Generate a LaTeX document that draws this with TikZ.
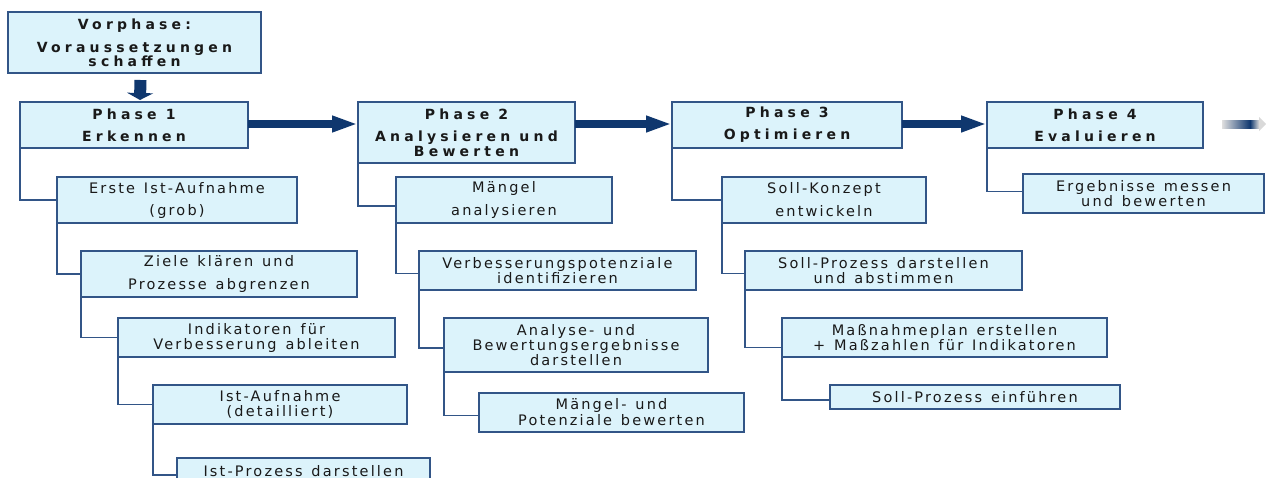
\documentclass[tikz,border=0pt]{standalone}
\usepackage{fontspec}
\usetikzlibrary{arrows.meta}
\newfontfamily\txfont[LetterSpace=15,WordSpace=1.3]{DejaVu Sans}
\newfontfamily\phfont[LetterSpace=30]{DejaVu Sans Bold}
\definecolor{boxc}{RGB}{220,243,251}
\definecolor{bordc}{RGB}{50,85,135}
\definecolor{arrc}{RGB}{15,55,110}
\definecolor{txtc}{RGB}{25,25,25}
\tikzset{
  box/.style={draw=bordc, fill=boxc, line width=1.4pt, inner sep=0pt, outer sep=0pt, align=center, text=txtc},
  sub/.style={box, font=\txfont\fontsize{14.5}{15}\selectfont},
  ph/.style={box, font=\phfont\fontsize{14}{15}\selectfont},
  conn/.style={draw=bordc, line width=1.4pt},
  bigarrow/.style={draw=arrc, line width=8pt, -{Triangle[length=26pt,width=15pt]}},
  downarrow/.style={draw=arrc, line width=12pt, -{Triangle[length=7pt,width=26pt]}}
}
\begin{document}
\begin{tikzpicture}[x=1pt,y=-1pt]
\useasboundingbox (0,0) rectangle (1266,477);
% phases
\node[ph, minimum width=253pt, minimum height=61pt] (vor) at (134.5,42.5) {Vorphase:\\[8pt]Voraussetzungen\\[-1pt]schaffen};
\node[ph, minimum width=228pt, minimum height=46pt] (p1) at (134,125) {Phase 1\\[7pt]Erkennen};
\node[ph, minimum width=217pt, minimum height=61pt] (p2) at (466.5,132.5) {Phase 2\\[7pt]Analysieren und\\Bewerten};
\node[ph, minimum width=230pt, minimum height=46pt] (p3) at (787,125) {Phase 3\\[7pt]Optimieren};
\node[ph, minimum width=216pt, minimum height=46pt] (p4) at (1095,125) {Phase 4\\[7pt]Evaluieren};
% phase 1 tasks
\node[sub, minimum width=240pt, minimum height=46pt] (a1) at (177,200) {Erste Ist-Aufnahme\\[7pt](grob)};
\node[sub, minimum width=276pt, minimum height=46pt] (a2) at (219,274) {Ziele klären und\\[8pt]Prozesse abgrenzen};
\node[sub, minimum width=277pt, minimum height=39pt] (a3) at (256.5,337.5) {Indikatoren für\\Verbesserung ableiten};
\node[sub, minimum width=254pt, minimum height=39pt] (a4) at (280,404.5) {Ist-Aufnahme\\(detailliert)};
\node[sub, minimum width=253pt, minimum height=26pt] (a5) at (303.5,471) {Ist-Prozess darstellen};
% phase 2 tasks
\node[sub, minimum width=216pt, minimum height=46pt] (b1) at (504,200) {Mängel\\[8pt]analysieren};
\node[sub, minimum width=277pt, minimum height=39pt] (b2) at (557.5,270.5) {Verbesserungspotenziale\\identifizieren};
\node[sub, minimum width=264pt, minimum height=54pt] (b3) at (576,345) {Analyse- und\\Bewertungsergebnisse\\darstellen};
\node[sub, minimum width=265pt, minimum height=39pt] (b4) at (611.5,412.5) {Mängel- und\\[1pt]Potenziale bewerten};
% phase 3 tasks
\node[sub, minimum width=204pt, minimum height=46pt] (c1) at (824,200) {Soll-Konzept\\[8pt]entwickeln};
\node[sub, minimum width=277pt, minimum height=39pt] (c2) at (883.5,270.5) {Soll-Prozess darstellen\\und abstimmen};
\node[sub, minimum width=325pt, minimum height=39pt] (c3) at (944.5,337.5) {Maßnahmeplan erstellen\\+ Maßzahlen für Indikatoren};
\node[sub, minimum width=290pt, minimum height=24pt] (c4) at (975,397) {Soll-Prozess einführen};
% phase 4 task
\node[sub, minimum width=241pt, minimum height=39pt] (d1) at (1143.5,193.5) {Ergebnisse messen\\und bewerten};
% connectors
\draw[conn] (p1.south west) |- (a1.west);
\draw[conn] (a1.south west) |- (a2.west);
\draw[conn] (a2.south west) |- (a3.west);
\draw[conn] (a3.south west) |- (a4.west);
\draw[conn] (a4.south west) |- ([yshift=-4pt]a5.west);
\draw[conn] (p2.south west) |- ([yshift=-6pt]b1.west);
\draw[conn] (b1.south west) |- ([yshift=-3pt]b2.west);
\draw[conn] (b2.south west) |- ([yshift=-3pt]b3.west);
\draw[conn] (b3.south west) |- ([yshift=-3pt]b4.west);
\draw[conn] (p3.south west) |- (c1.west);
\draw[conn] (c1.south west) |- ([yshift=-3pt]c2.west);
\draw[conn] (c2.south west) |- ([yshift=-10pt]c3.west);
\draw[conn] (c3.south west) |- ([yshift=-3pt]c4.west);
\draw[conn] (p4.south west) |- ([yshift=2pt]d1.west);
% arrows
\draw[downarrow] ([xshift=6pt,yshift=-7pt]vor.south) -- ([xshift=6pt,yshift=2pt]p1.north);
\coordinate (ay) at (0,124);
\draw[bigarrow] (p1.east |- ay) -- (p2.west |- ay);
\draw[bigarrow] (p2.east |- ay) -- (p3.west |- ay);
\draw[bigarrow] (p3.east |- ay) -- (p4.west |- ay);
% faded arrow at right
\shade[left color=gray!25, right color=arrc] (1222,120) rectangle (1250,128);
\shade[left color=arrc, right color=gray!30] (1250,120) rectangle (1259,128);
\fill[gray!30] (1259,117) -- (1266,124) -- (1259,131) -- cycle;
\end{tikzpicture}
\end{document}
